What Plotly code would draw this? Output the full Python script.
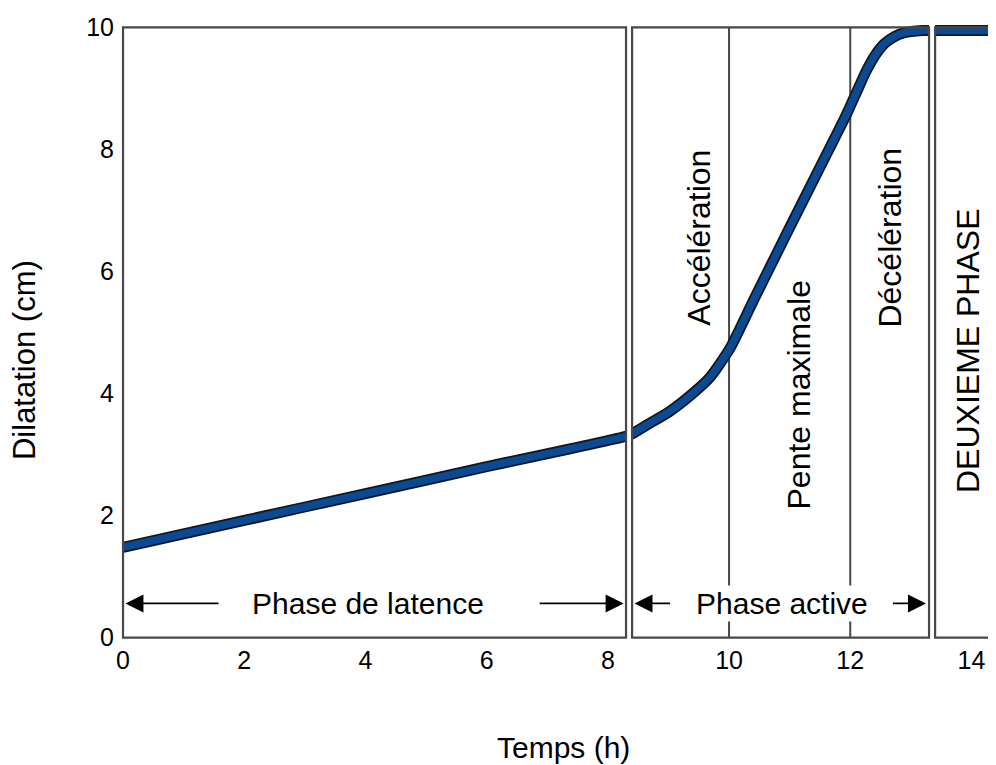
import plotly.graph_objects as go

# ---- data ----
time_h = [0, 2, 4, 6, 8.3, 8.4, 8.67, 9.01, 9.34, 9.68, 10.02, 10.4, 11.0, 11.75,
          11.94, 12.1, 12.26, 12.42, 12.57, 12.73, 12.88, 13.19, 13.5, 14.6]
dilatation_cm = [1.48, 1.92, 2.36, 2.80, 3.30, 3.34, 3.50, 3.70, 3.95, 4.26, 4.75, 5.52, 6.72, 8.20,
                 8.58, 8.93, 9.28, 9.56, 9.74, 9.85, 9.91, 9.95, 9.95, 9.95]

x_ticks = [0, 2, 4, 6, 8, 10, 12, 14]
y_ticks = [0, 2, 4, 6, 8, 10]

# panel boundaries (h)
panel_edges = [(0, 8.3), (8.4, 13.3), (13.4, 15.0)]
inner_lines = [10, 12]

phase_labels = ["Phase de latence", "Phase active"]
vertical_labels = ["Accélération", "Pente maximale", "Décélération", "DEUXIEME PHASE"]

FONT = "Liberation Sans, Arial, sans-serif"
FRAME = "#484848"

fig = go.Figure()

# curve: black edge + blue core
fig.add_trace(go.Scatter(x=time_h, y=dilatation_cm, mode="lines",
                         line=dict(color="#101820", width=11, shape="spline", smoothing=0.6),
                         hoverinfo="skip", showlegend=False))
fig.add_trace(go.Scatter(x=time_h, y=dilatation_cm, mode="lines",
                         line=dict(color="#0B4A92", width=7.5, shape="spline", smoothing=0.6),
                         showlegend=False))

shapes = []
# inner vertical lines (below curve)
for xv in inner_lines:
    shapes.append(dict(type="line", xref="x", yref="y", x0=xv, x1=xv, y0=0, y1=10,
                       line=dict(color=FRAME, width=2), layer="below"))
# white gaps between panels
for (a0, a1), (b0, b1) in zip(panel_edges[:-1], panel_edges[1:]):
    shapes.append(dict(type="rect", xref="x", yref="y", x0=a1, x1=b0, y0=-0.5, y1=10.5,
                       fillcolor="white", line=dict(width=0), layer="above"))
# panel boxes
for a0, a1 in panel_edges:
    shapes.append(dict(type="rect", xref="x", yref="y", x0=a0, x1=a1, y0=0, y1=10,
                       line=dict(color=FRAME, width=2.2), fillcolor="rgba(0,0,0,0)", layer="above"))

annotations = []
# phase labels with arrows
annotations.append(dict(x=4.05, y=0.56, xref="x", yref="y", text=phase_labels[0], showarrow=False,
                        font=dict(family=FONT, size=30, color="black"), bgcolor="white"))
annotations.append(dict(x=10.87, y=0.56, xref="x", yref="y", text=phase_labels[1], showarrow=False,
                        font=dict(family=FONT, size=30, color="black"), bgcolor="white"))
arrows = [((0.04, 0.56), (1.6, 0.56)), ((8.26, 0.56), (6.85, 0.56)),
          ((8.44, 0.56), (9.05, 0.56)), ((13.25, 0.56), (12.68, 0.56))]
for (hx, hy), (tx, ty) in arrows:
    annotations.append(dict(x=hx, y=hy, ax=tx, ay=ty, xref="x", yref="y", axref="x", ayref="y",
                            text="", showarrow=True, arrowhead=2, arrowsize=2, arrowwidth=1.8,
                            arrowcolor="black"))
# vertical phase labels
vpos = [(9.5, 6.55), (11.15, 3.98), (12.65, 6.55), (13.94, 4.71)]
for txt, (vx, vy) in zip(vertical_labels, vpos):
    annotations.append(dict(x=vx, y=vy, xref="x", yref="y", text=txt, showarrow=False,
                            textangle=-90, font=dict(family=FONT, size=32, color="black")))
# axis titles
annotations.append(dict(x=-0.1084, y=0.4553, xref="paper", yref="paper", text="Dilatation (cm)",
                        xanchor="center", yanchor="middle",
                        showarrow=False, textangle=-90, font=dict(family=FONT, size=31, color="black")))
annotations.append(dict(x=0.5068, y=-0.1756, xref="paper", yref="paper", text="Temps (h)",
                        xanchor="center", yanchor="middle",
                        showarrow=False, font=dict(family=FONT, size=30, color="black")))

fig.update_layout(
    width=988, height=757,
    margin=dict(l=112, r=0, t=17, b=125),
    paper_bgcolor="white", plot_bgcolor="white",
    shapes=shapes, annotations=annotations,
    xaxis=dict(range=[-0.05, 14.405], tickvals=x_ticks, ticktext=[str(v) for v in x_ticks],
               showgrid=False, zeroline=False, showline=False, ticks="",
               tickfont=dict(family=FONT, size=25, color="black"), ticklabelstandoff=3),
    yaxis=dict(range=[-0.04, 10.04], tickvals=y_ticks, ticktext=[str(v) for v in y_ticks],
               showgrid=False, zeroline=False, showline=False, ticks="",
               tickfont=dict(family=FONT, size=25, color="black"), ticklabelstandoff=5),
    showlegend=False,
)

fig.write_html("out.html")
